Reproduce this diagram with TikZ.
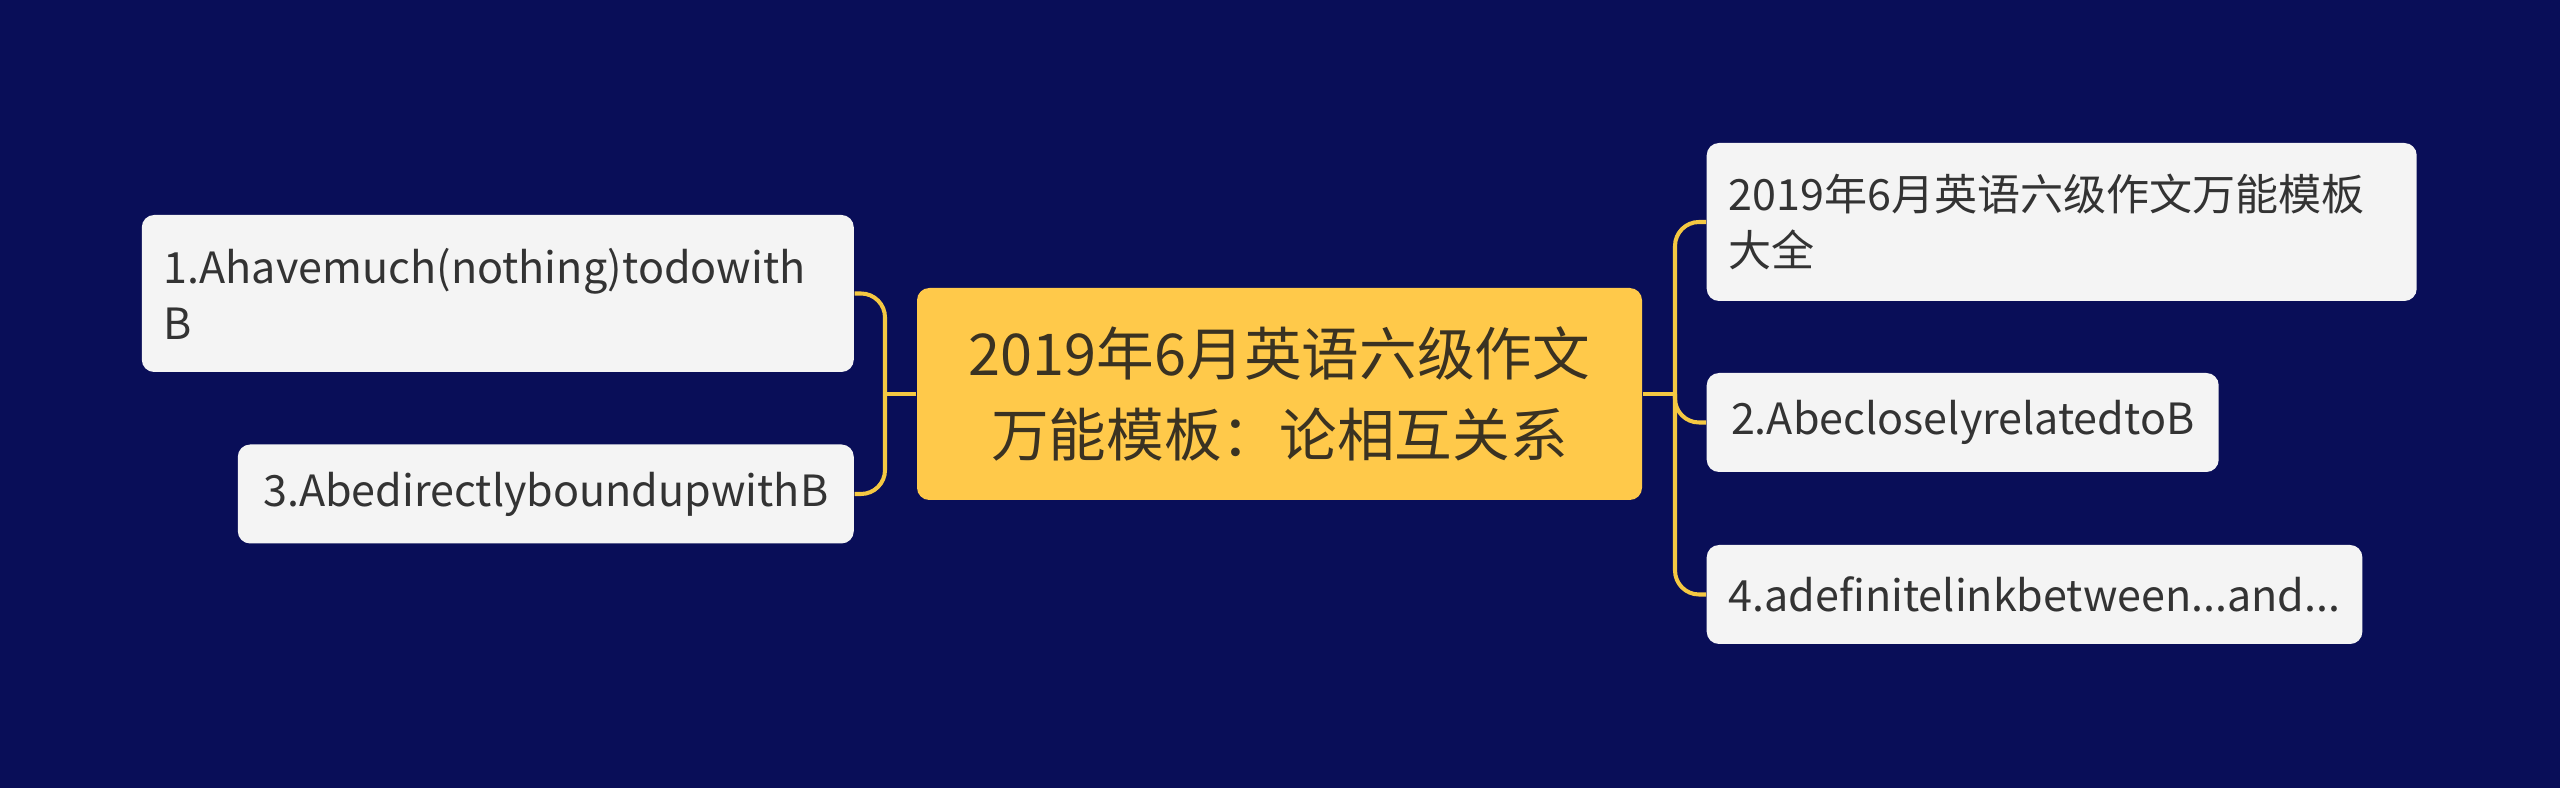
\documentclass[tikz,border=0pt]{standalone}
\usepackage{fontspec}
\setmainfont{Noto Sans CJK SC}
\usepackage{tikz}
\usetikzlibrary{positioning}
\definecolor{navy}{RGB}{9, 14, 88}
\definecolor{gold}{RGB}{255, 201, 74}
\definecolor{wire}{RGB}{245, 200, 66}
\definecolor{paper}{RGB}{244, 244, 244}
\definecolor{ink}{RGB}{51, 51, 51}
\definecolor{rootink}{RGB}{58, 50, 34}

\begin{document}
\begin{tikzpicture}[
    root/.style={rectangle, fill=gold, rounded corners=3.5pt, minimum width=7.25cm, minimum height=2.12cm, align=center, text=rootink, font=\fontsize{16.4pt}{23.3pt}\selectfont},
    leaf/.style={rectangle, fill=paper, rounded corners=3.5pt, minimum height=0.99cm, inner xsep=0.22cm, align=left, text=ink, font=\fontsize{12.25pt}{15.9pt}\selectfont},
    link/.style={draw=wire, line width=1.15pt, rounded corners=0.24cm}
]
    \fill[navy] (0,0) rectangle (25.6,7.88);
    \useasboundingbox (0,0) rectangle (25.6,7.88);

    \node[root] (root) at (12.795,3.94) {2019年6月英语六级作文\\万能模板：论相互关系};

    % left side
    \node[leaf, anchor=east, minimum width=7.12cm, minimum height=1.57cm, text width=6.68cm] (l1) at (8.545,4.945) {1.Ahavemuch(nothing)todowith\\B};
    \node[leaf, anchor=east, minimum width=6.16cm] (l3) at (8.545,2.94) {3.AbedirectlyboundupwithB};

    % right side
    \node[leaf, anchor=west, minimum width=7.10cm, minimum height=1.58cm, text width=6.66cm] (r1) at (17.06,5.66) {2019年6月英语六级作文万能模板\\大全};
    \node[leaf, anchor=west, minimum width=5.12cm] (r2) at (17.06,3.655) {2.AbecloselyrelatedtoB};
    \node[leaf, anchor=west, minimum width=6.54cm] (r4) at (17.06,1.935) {4.adefinitelinkbetween...and...};

    \coordinate (lbus) at (8.85,3.94);
    \coordinate (rbus) at (16.75,3.94);

    \draw[link] (root.west) -- (lbus);
    \draw[link] (l1.east) -| (lbus) |- (l3.east);
    \draw[link] (root.east) -- (rbus);
    \draw[link] (r1.west) -| (rbus) |- (r4.west);
    \draw[link] (rbus) |- (r2.west);
\end{tikzpicture}
\end{document}
